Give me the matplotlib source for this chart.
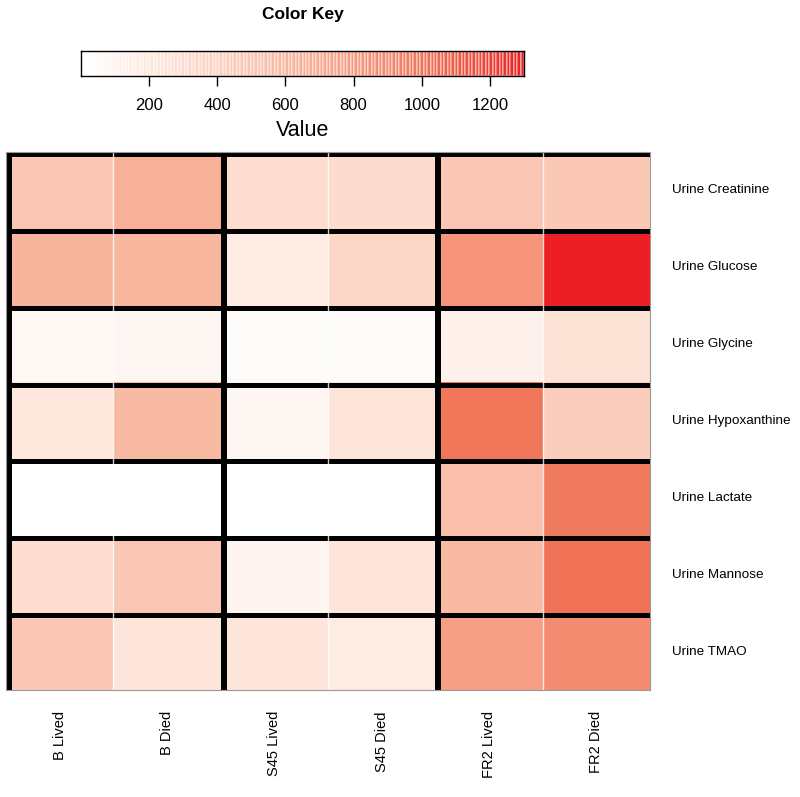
import numpy as np
import matplotlib
matplotlib.use("Agg")
import matplotlib.pyplot as plt
from matplotlib.colors import LinearSegmentedColormap
from matplotlib.patches import Rectangle

plt.rcParams['font.family'] = ['Liberation Sans', 'DejaVu Sans']

# data
groups = ["B Lived", "B Died", "S45 Lived", "S45 Died", "FR2 Lived", "FR2 Died"]
metabolites = ["Urine Creatinine", "Urine Glucose", "Urine Glycine", "Urine Hypoxanthine",
               "Urine Lactate", "Urine Mannose", "Urine TMAO"]
creatinine = [470, 640, 290, 300, 470, 460]
glucose = [610, 590, 170, 350, 840, 1295]
glycine = [65, 75, 30, 30, 130, 250]
hypoxanthine = [200, 575, 75, 230, 990, 420]
lactate = [0, 0, 0, 0, 520, 965]
mannose = [290, 470, 90, 215, 575, 1015]
tmao = [470, 215, 215, 170, 780, 880]
key_ticks = [200, 400, 600, 800, 1000, 1200]

vals = np.array([creatinine, glucose, glycine, hypoxanthine, lactate, mannose, tmao])
vmin, vmax = 0, 1300

cmap = LinearSegmentedColormap.from_list("reds", [
    (0.0, "#FFFFFF"), (0.15, "#FEE8DE"), (0.31, "#FCD0C0"), (0.46, "#F9B7A0"),
    (0.62, "#F69B82"), (0.77, "#F1765A"), (0.92, "#EC4637"), (1.0, "#EC2024")], N=128)

fig = plt.figure(figsize=(8, 7.97), dpi=100)
W, H = 800, 797

# heatmap
ax = fig.add_axes([6 / W, 1 - 690 / H, 644 / W, 538 / H])
ax.imshow(vals, cmap=cmap, vmin=vmin, vmax=vmax, aspect='auto', interpolation='nearest',
          extent=(0, len(groups), len(metabolites), 0))
ax.set_xlim(0, len(groups))
ax.set_ylim(len(metabolites), 0)
ax.set_xticks([])
ax.set_yticks([])
for s in ax.spines.values():
    s.set_color('#999999')
    s.set_linewidth(0.8)

# thin white lines inside groups
for c in [1, 3, 5]:
    ax.axvline(c, color='white', lw=1.0, alpha=0.8)
# black separators
for c in [0, 2, 4]:
    ax.add_patch(Rectangle((c, 0), 0.055, len(metabolites), color='black', lw=0))
for r in range(len(metabolites)):
    ax.add_patch(Rectangle((0, r), len(groups), 0.065, color='black', lw=0))

for i, name in enumerate(metabolites):
    fig.text(672 / W, 1 - (152 + (i + 0.5) * 538 / 7) / H, name, fontsize=9.7,
             ha='left', va='center')
for j, name in enumerate(groups):
    fig.text((6 + (j + 0.5) * 644 / 6) / W, 1 - 711 / H, name, fontsize=10.5,
             rotation=90, ha='center', va='top')

# color key
kax = fig.add_axes([81 / W, 1 - 76 / H, 443 / W, 25 / H])
edges = np.linspace(vmin, vmax, 129)
centers = (edges[:-1] + edges[1:]) / 2
kax.pcolormesh(edges, [0, 1], centers.reshape(1, -1), cmap=cmap, vmin=vmin, vmax=vmax,
               edgecolors=(1, 1, 1, 0.35), linewidth=0.3)
kax.set_xlim(vmin, vmax)
kax.set_ylim(0, 1)
kax.set_yticks([])
kax.set_xticks(key_ticks)
kax.set_xticklabels([str(t) for t in key_ticks], fontsize=12)
kax.tick_params(axis='x', length=7, pad=9, width=1)
for s in kax.spines.values():
    s.set_linewidth(1)
kax.set_xlabel("Value", fontsize=15.5, labelpad=5)
fig.text(303 / W, 1 - 14 / H, "Color Key", fontsize=12.5, fontweight='bold',
         ha='center', va='center')

fig.savefig("out.png", dpi=100)
